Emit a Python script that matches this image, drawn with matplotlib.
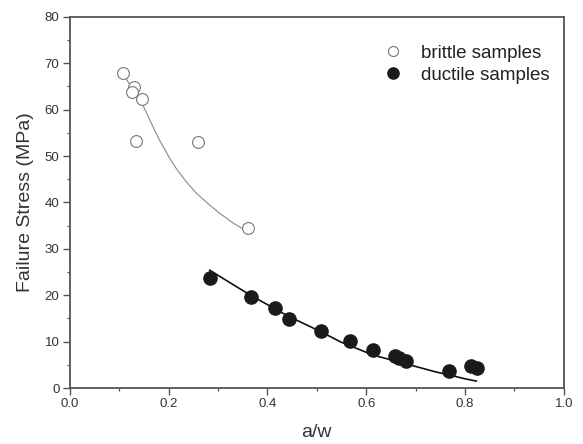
import matplotlib
matplotlib.use("Agg")
import matplotlib.pyplot as plt
from matplotlib.ticker import MultipleLocator

plt.rcParams['font.family'] = ['Liberation Sans', 'DejaVu Sans']

# brittle samples
brittle_x = [0.107, 0.130, 0.126, 0.145, 0.134, 0.260, 0.361]
brittle_y = [68.0, 64.8, 63.9, 62.3, 53.3, 53.0, 34.4]
# brittle fit curve
brittle_fit_x = [0.105, 0.120, 0.135, 0.148, 0.165, 0.182, 0.200, 0.216, 0.236, 0.256, 0.280, 0.304, 0.330, 0.358]
brittle_fit_y = [68.2, 65.6, 63.2, 60.9, 57.0, 53.3, 49.9, 47.2, 44.4, 42.0, 39.7, 37.6, 35.6, 33.8]

# ductile samples
ductile_x = [0.283, 0.366, 0.415, 0.444, 0.509, 0.567, 0.613, 0.659, 0.667, 0.681, 0.768, 0.813, 0.825]
ductile_y = [23.8, 19.6, 17.3, 14.9, 12.3, 10.1, 8.3, 6.9, 6.5, 5.9, 3.7, 4.8, 4.4]
# ductile fit curve
ductile_fit_x = [0.283, 0.364, 0.440, 0.509, 0.547, 0.614, 0.660, 0.702, 0.740, 0.769, 0.800, 0.823]
ductile_fit_y = [25.4, 20.1, 15.6, 12.1, 10.0, 7.1, 5.8, 4.6, 3.5, 2.8, 2.0, 1.5]

x_ticks = [0.0, 0.2, 0.4, 0.6, 0.8, 1.0]
x_ticklabels = ['0.0', '0.2', '0.4', '0.6', '0.8', '1.0']

fig = plt.figure(figsize=(5.83, 4.44), dpi=100)
ax = fig.add_axes([0.120, 0.126, 0.847, 0.836])

ax.plot(brittle_fit_x, brittle_fit_y, color='#888888', lw=0.8, zorder=1)
ax.plot(ductile_fit_x, ductile_fit_y, color='#111111', lw=1.2, zorder=1)
ax.plot(brittle_x, brittle_y, 'o', ms=8.5, mfc='white', mec='#777777', mew=0.8,
        linestyle='none', label='brittle samples', zorder=2)
ax.plot(ductile_x, ductile_y, 'o', ms=9.5, mfc='#1a1a1a', mec='#1a1a1a',
        linestyle='none', label='ductile samples', zorder=3)

ax.set_xlim(0, 1.0)
ax.set_ylim(0, 80)
ax.xaxis.set_minor_locator(MultipleLocator(0.1))
ax.yaxis.set_major_locator(MultipleLocator(10))
ax.yaxis.set_minor_locator(MultipleLocator(5))
ax.set_xticks(x_ticks)
ax.set_xticklabels(x_ticklabels)

for s in ax.spines.values():
    s.set_color('#555555')
    s.set_linewidth(1.3)
ax.tick_params(which='major', direction='out', length=5, width=1.0, color='#555555',
               labelsize=9.5, labelcolor='#333333', pad=2.5)
ax.tick_params(which='minor', direction='out', length=2.5, width=0.9, color='#555555')

ax.set_xlabel('a/w', fontsize=14, color='#333333', labelpad=10)
ax.set_ylabel('Failure Stress (MPa)', fontsize=14, color='#333333', labelpad=8)

leg = ax.legend(loc='upper left', bbox_to_anchor=(0.610, 0.946), frameon=False,
                fontsize=13.5, handletextpad=0.77, labelspacing=0.26,
                borderaxespad=0.0, handlelength=1.5, markerscale=0.85)
for t in leg.get_texts():
    t.set_color('#222222')

fig.savefig('out.png', dpi=100)
